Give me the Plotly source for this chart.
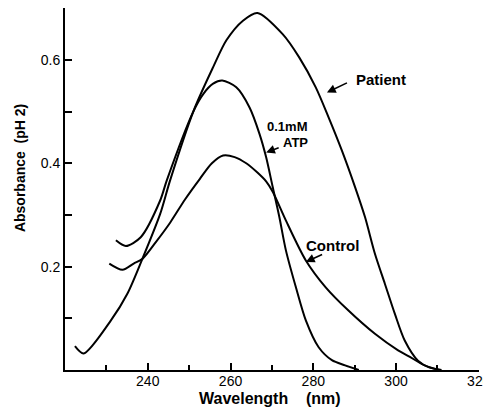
import plotly.graph_objects as go

# ---- data ----
patient_wl = [222.4, 224.5, 231.1, 235.1, 238.7, 243.0, 245.4, 251.1, 255.8, 259.0, 263.0, 266.5,
              272.6, 276.6, 280.6, 283.7, 286.9, 290.1, 292.5, 294.9, 297.3, 299.7, 302.1, 305.3, 308.0, 311.0]
patient_abs = [0.046, 0.032, 0.096, 0.148, 0.215, 0.302, 0.367, 0.502, 0.586, 0.638, 0.676, 0.691,
               0.650, 0.605, 0.547, 0.489, 0.425, 0.354, 0.296, 0.225, 0.167, 0.109, 0.057, 0.018, 0.005, 0.0]

atp_wl = [232.3, 234.7, 238.3, 243.0, 244.6, 251.0, 253.4, 255.8, 258.0, 261.4, 264.6, 267.0, 268.6,
          270.2, 271.8, 273.4, 275.8, 278.2, 281.3, 284.5, 287.7, 291.0]
atp_abs = [0.251, 0.240, 0.257, 0.328, 0.367, 0.500, 0.534, 0.554, 0.560, 0.547, 0.508, 0.457, 0.412,
           0.354, 0.296, 0.231, 0.160, 0.096, 0.044, 0.019, 0.009, 0.0]

control_wl = [230.7, 233.9, 236.6, 238.7, 242.0, 245.4, 249.0, 252.6, 255.5, 258.2, 261.0, 263.8,
              266.5, 268.6, 270.2, 273.4, 278.2, 283.0, 288.5, 294.9, 300.5, 303.0, 306.9, 310.5]
control_abs = [0.206, 0.194, 0.206, 0.215, 0.248, 0.285, 0.330, 0.370, 0.400, 0.415, 0.412, 0.400,
               0.382, 0.365, 0.345, 0.289, 0.212, 0.160, 0.115, 0.070, 0.038, 0.027, 0.009, 0.0]

x_major = [240, 260, 280, 300, 320]
x_major_labels = ["240", "260", "280", "300", "320"]
x_minor = [230, 250, 270, 290, 310]
y_major = [0.2, 0.4, 0.6]
y_major_labels = ["0.2", "0.4", "0.6"]
y_minor = [0.1, 0.3, 0.5, 0.7]

FONT = "Liberation Sans"
fig = go.Figure()
for wl, ab in [(patient_wl, patient_abs), (atp_wl, atp_abs), (control_wl, control_abs)]:
    fig.add_trace(go.Scatter(x=wl, y=ab, mode="lines",
                             line=dict(color="black", width=2, shape="spline", smoothing=0.8),
                             showlegend=False, hoverinfo="skip"))

def arrow(x, y, ax, ay):
    fig.add_annotation(x=x, y=y, ax=ax, ay=ay, xref="x", yref="y", axref="x", ayref="y",
                       text="", showarrow=True, arrowhead=2, arrowsize=1.1, arrowwidth=1.6,
                       arrowcolor="black")

def label(text, tx, ty, size):
    fig.add_annotation(x=tx, y=ty, xref="x", yref="y", text=text, showarrow=False,
                       xanchor="center", yanchor="middle",
                       font=dict(family=FONT, size=size, color="black"))

arrow(283.3, 0.537, 288.5, 0.557)
label("<b>Patient</b>", 296.4, 0.562, 15)
arrow(268.6, 0.421, 272.0, 0.431)
label("<b>0.1mM</b>", 273.6, 0.472, 13)
label("<b>ATP</b>", 275.8, 0.441, 13)
arrow(278.2, 0.209, 282.5, 0.225)
label("<b>Control</b>", 284.7, 0.241, 15)

fig.add_annotation(x=-0.110, y=0.559, xref="paper", yref="paper", textangle=-90,
                   xanchor="center", yanchor="middle",
                   text="<b>Absorbance\u00a0\u00a0(pH 2)</b>", showarrow=False,
                   font=dict(family=FONT, size=14, color="black"))
fig.add_annotation(x=0.4956, y=-0.0785, xref="paper", yref="paper",
                   xanchor="center", yanchor="middle",
                   text="<b>Wavelength\u00a0\u00a0\u00a0\u00a0(nm)</b>", showarrow=False,
                   font=dict(family=FONT, size=16, color="black"))

fig.update_layout(
    width=483, height=405,
    margin=dict(l=57, r=8, t=0, b=43, pad=0),
    paper_bgcolor="white", plot_bgcolor="white",
    xaxis=dict(range=[220, 320.05], showline=True, linecolor="black", linewidth=2,
               showgrid=False, zeroline=False, ticks="inside", ticklen=7, tickwidth=1.5,
               tickcolor="black", tickvals=x_major, ticktext=x_major_labels,
               ticklabelstandoff=-3, ticklabeloverflow="allow",
               tickfont=dict(family=FONT, size=14, color="black"),
               minor=dict(tickvals=x_minor, ticks="inside", ticklen=5, tickwidth=1.5,
                          tickcolor="black", showgrid=False)),
    yaxis=dict(range=[0, 0.7005], showline=True, linecolor="black", linewidth=2,
               showgrid=False, zeroline=False, ticks="inside", ticklen=7, tickwidth=1.5,
               tickcolor="black", tickvals=y_major, ticktext=y_major_labels,
               tickfont=dict(family=FONT, size=14, color="black"),
               minor=dict(tickvals=y_minor, ticks="inside", ticklen=7, tickwidth=1.5,
                          tickcolor="black", showgrid=False)),
)

fig.write_html("out.html")
